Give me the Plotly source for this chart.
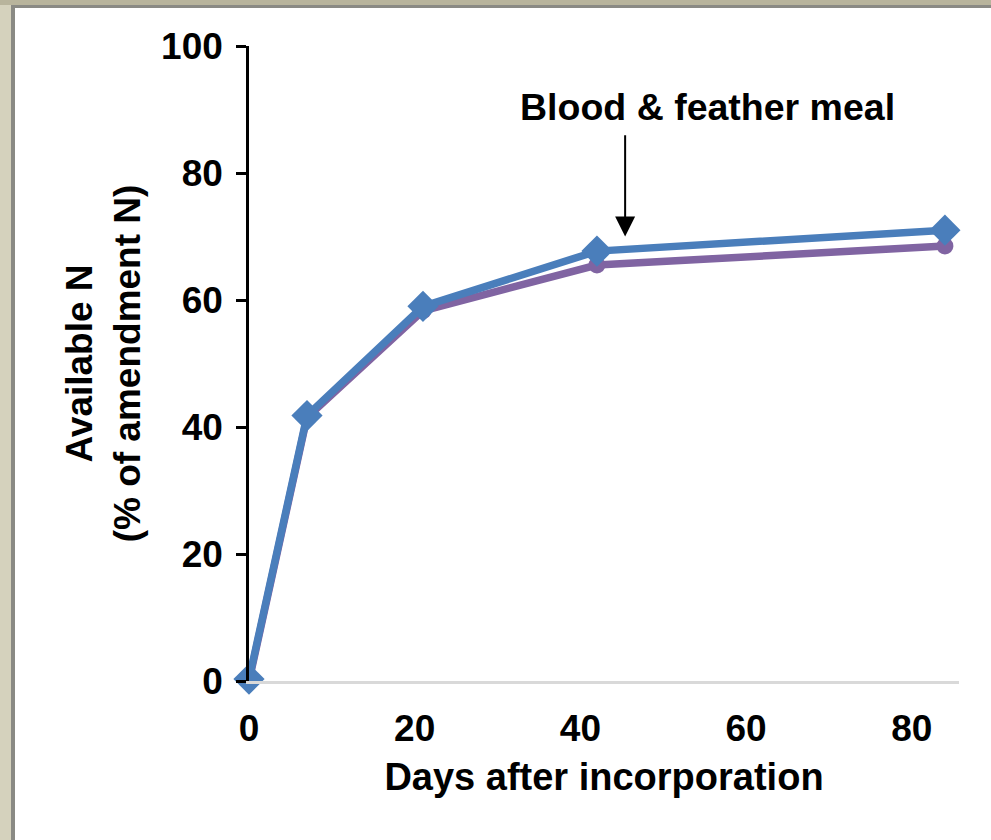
import plotly.graph_objects as go

days = [0, 7, 21, 42, 84]
blue_vals = [0.3, 41.8, 59.0, 67.7, 71.0]
purple_vals = [0.0, 41.5, 58.3, 65.5, 68.5]
x_ticks = [0, 20, 40, 60, 80]
y_ticks = [0, 20, 40, 60, 80, 100]
annot_text = "Blood & feather meal"

W, H = 991, 840
L, R, T, B = 249, 32, 46, 159
pw, ph = W - L - R, H - T - B

def px(x):
    return (x - L) / pw

def py(y):
    return (H - B - y) / ph

FONT = "Liberation Sans, Arial, sans-serif"
FS = 37

fig = go.Figure()
fig.add_trace(go.Scatter(
    x=days, y=purple_vals, mode="lines+markers",
    line=dict(color="#8064A2", width=7.5),
    marker=dict(symbol="circle", size=17, color="#8064A2"),
    showlegend=False, cliponaxis=False))
fig.add_trace(go.Scatter(
    x=days, y=blue_vals, mode="lines+markers",
    line=dict(color="#4A7EBB", width=7.5),
    marker=dict(symbol="diamond", size=24, color="#4A7EBB"),
    showlegend=False, cliponaxis=False))

# frame (shadow border top and left)
shapes = [
    dict(type="rect", xref="paper", yref="paper", x0=px(0), x1=px(11), y0=py(H), y1=py(0),
         fillcolor="#d5d2bd", line=dict(width=0), layer="above"),
    dict(type="rect", xref="paper", yref="paper", x0=px(11), x1=px(15), y0=py(H), y1=py(0),
         fillcolor="#8a8a84", line=dict(width=0), layer="above"),
    dict(type="rect", xref="paper", yref="paper", x0=px(0), x1=px(W), y0=py(5), y1=py(0),
         fillcolor="#b8b49c", line=dict(width=0), layer="above"),
    dict(type="rect", xref="paper", yref="paper", x0=px(11), x1=px(W), y0=py(8), y1=py(5),
         fillcolor="#8a8a84", line=dict(width=0), layer="above"),
]

fig.update_layout(
    width=W, height=H,
    margin=dict(l=L, r=R, t=T, b=B),
    paper_bgcolor="white", plot_bgcolor="white",
    font=dict(family=FONT, size=FS, color="black"),
    shapes=shapes,
    xaxis=dict(
        range=[0, 85.7], tickvals=x_ticks, ticks="", showgrid=False, zeroline=False,
        showline=True, linecolor="#d9d9d9", linewidth=3,
        tickfont=dict(family=FONT, size=FS, color="black", weight="bold"),
        ticklabelstandoff=13,
        title=dict(text="<b>Days after incorporation</b>", font=dict(size=38), standoff=15),
    ),
    yaxis=dict(
        range=[0, 100], tickvals=y_ticks, ticks="outside", ticklen=10, tickwidth=2.5,
        tickcolor="black", showgrid=False, zeroline=False,
        showline=True, linecolor="black", linewidth=2.5,
        tickfont=dict(family=FONT, size=FS, color="black", weight="bold"),
        ticklabelstandoff=6,
        title=dict(text="<b>Available N<br>(% of amendment N)</b>", font=dict(size=FS), standoff=10),
    ),
    annotations=[
        dict(x=55.3, y=90.4, xref="x", yref="y", text="<b>" + annot_text + "</b>",
             showarrow=False, font=dict(family=FONT, size=37.5, color="black")),
        dict(x=45.4, y=70.0, ax=45.4, ay=86.2, xref="x", yref="y", axref="x", ayref="y",
             text="", showarrow=True, arrowhead=2, arrowsize=2.0, arrowwidth=2.0,
             arrowcolor="black"),
    ],
)

fig.write_html("out.html", config={"displayModeBar": False},
               post_script="document.body.style.margin='0';")
